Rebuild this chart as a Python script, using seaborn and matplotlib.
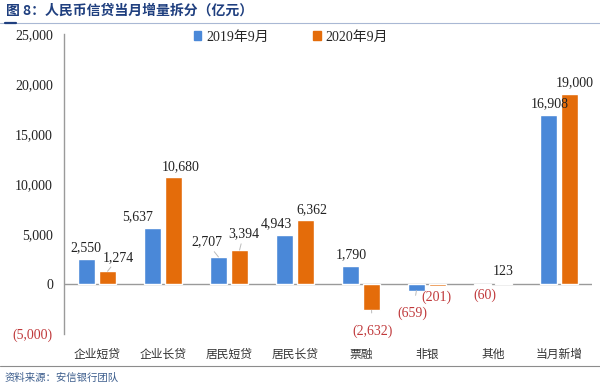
import pandas as pd
import seaborn as sns
import matplotlib.pyplot as plt
from matplotlib.lines import Line2D

############################ DATA #############################

categories = ["企业短贷", "企业长贷", "居民短贷", "居民长贷", "票融", "非银", "其他", "当月新增"]
series_names = ["2019年9月", "2020年9月"]
values_2019 = [2550, 5637, 2707, 4943, 1790, -659, -60, 16908]
values_2020 = [1274, 10680, 3394, 6362, -2632, -201, 123, 19000]
y_ticks = [-5000, 0, 5000, 10000, 15000, 20000, 25000]

# label nudges (pixels) as placed in the original chart
nudge_2019 = [(-1, 0), (-15, 0), (-12, 4), (-8, 0), (1, 0), (-4, 12), (2, 0), (1, 0)]
nudge_2020 = [(11, 3), (7, 0), (4, 5), (6, 0), (1, 10), (-1, 0), (0, 0), (5, 0)]
leader_2019 = [False, False, True, False, False, True, False, False]
leader_2020 = [True, False, True, False, True, False, False, False]

BLUE = "#4A88D8"
ORANGE = "#E46C0A"
RED = "#C0393B"
GREY = "#9A9A9A"
SERIF = ["Liberation Serif", "Noto Sans CJK SC"]
CJK = ["Noto Sans CJK SC", "DejaVu Sans"]

df = pd.DataFrame({
    "cat": categories * 2,
    "series": [series_names[0]] * len(categories) + [series_names[1]] * len(categories),
    "value": values_2019 + values_2020,
})

############################ PLOT #############################

sns.set_theme(style="white")
plt.rcParams["font.family"] = SERIF

fig = plt.figure(figsize=(6, 3.84), dpi=100)
ax = fig.add_axes([64 / 600, 1 - 334 / 384, 528 / 600, 300 / 384])

sns.barplot(data=df, x="cat", y="value", hue="series", order=categories,
            hue_order=series_names, palette=[BLUE, ORANGE], width=0.64,
            gap=0.2, saturation=1, ax=ax, legend=False)

ax.set_ylim(-5000, 25000)
ax.set_xlim(-0.5, len(categories) - 0.5)
ax.set_yticks(y_ticks)


def fmt(v):
    return "({:,.0f})".format(abs(v)) if v < 0 else "{:,.0f}".format(v)


ax.set_yticklabels([fmt(v) for v in y_ticks], fontsize=10, family=SERIF)
for lbl, v in zip(ax.get_yticklabels(), y_ticks):
    lbl.set_color(RED if v < 0 else "#222222")
ax.tick_params(axis="y", length=0, pad=8)
ax.tick_params(axis="x", length=0, pad=10)
ax.set_xticks(range(len(categories)))
ax.set_xticklabels(categories, family=CJK, fontsize=8.5, color="#333333")
ax.set_xlabel("")
ax.set_ylabel("")

for s in ["top", "right", "bottom"]:
    ax.spines[s].set_visible(False)
ax.spines["left"].set_color(GREY)
ax.spines["left"].set_linewidth(1)
ax.axhline(0, color=GREY, lw=1, zorder=0.5)

# data labels
for cont, vals, nudges, leaders in zip(ax.containers, [values_2019, values_2020],
                                       [nudge_2019, nudge_2020], [leader_2019, leader_2020]):
    for bar, v, (dx, dy), lead in zip(cont, vals, nudges, leaders):
        x = bar.get_x() + bar.get_width() / 2
        if v >= 0:
            off = (dx, 11 + dy)
            col = "#222222"
        else:
            off = (dx, -11 - dy)
            col = RED
        ax.annotate(fmt(v), xy=(x, v), xytext=off, textcoords="offset pixels",
                    ha="center", va="center", fontsize=10, color=col, family=SERIF,
                    arrowprops=dict(arrowstyle="-", color="#BBBBBB", lw=0.7,
                                    shrinkA=6, shrinkB=0) if lead else None)

# legend
handles = [plt.Rectangle((0, 0), 1, 1, color=c) for c in [BLUE, ORANGE]]
fig.legend(handles, series_names, loc="center", bbox_to_anchor=(291 / 600, 1 - 37 / 384),
           ncol=2, frameon=False, handlelength=0.55, handleheight=0.55,
           handletextpad=0.35, columnspacing=3.2, prop={"family": SERIF, "size": 10})

# title and frame lines
fig.text(6 / 600, 1 - 11 / 384, "图 8：人民币信贷当月增量拆分（亿元）", family=CJK,
         fontsize=10, fontweight="bold", color="#1F3F7F", va="center", ha="left")
fig.add_artist(Line2D([0, 1], [1 - 23 / 384] * 2, color="#A9B8D4", lw=0.8))
fig.add_artist(Line2D([5 / 600, 16 / 600], [1 - 23 / 384] * 2, color="#1F3F7F", lw=1.6))
fig.add_artist(Line2D([0, 1], [1 - 366 / 384] * 2, color="#8C8C8C", lw=0.8))
fig.text(5 / 600, 1 - 378 / 384, "资料来源：安信银行团队", family=CJK, fontsize=7.5,
         style="italic", color="#3E5F8E", va="center", ha="left")

plt.savefig("out.png", dpi=100)
